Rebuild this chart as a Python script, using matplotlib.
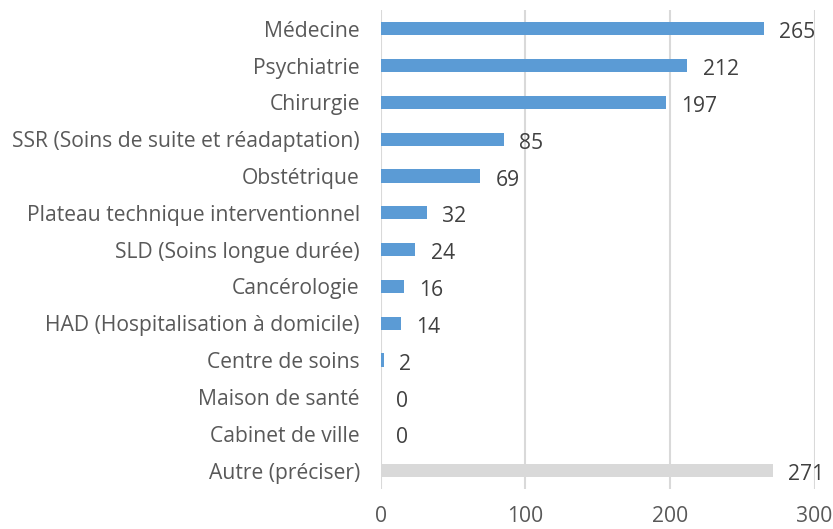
import matplotlib
matplotlib.use("Agg")
import matplotlib.pyplot as plt

categories = ["Médecine", "Psychiatrie", "Chirurgie", "SSR (Soins de suite et réadaptation)",
              "Obstétrique", "Plateau technique interventionnel", "SLD (Soins longue durée)",
              "Cancérologie", "HAD (Hospitalisation à domicile)", "Centre de soins",
              "Maison de santé", "Cabinet de ville", "Autre (préciser)"]
values = [265, 212, 197, 85, 69, 32, 24, 16, 14, 2, 0, 0, 271]
colors = ["#5B9BD5"] * 12 + ["#D9D9D9"]
xticks = [0, 100, 200, 300]

plt.rcParams['font.family'] = ['Open Sans', 'DejaVu Sans']
FS = 15.2

fig = plt.figure(figsize=(8.33, 5.29), dpi=100)
ax = fig.add_axes([0.457, 0.0756, 0.521, 0.905])

y = list(range(len(categories)))
ax.barh(y, values, height=0.36, color=colors, zorder=3)
for yi, v in zip(y, values):
    ax.annotate(str(v), (v, yi), xytext=(11, -3), textcoords="offset points",
                va="center", ha="left", fontsize=FS, color="#404040")

ax.set_ylim(len(categories) - 0.5, -0.5)
ax.set_xlim(0, 300)
ax.set_xticks(xticks)
ax.set_yticks(y)
ax.set_yticklabels(categories, fontsize=FS, color="#595959")
ax.tick_params(axis="x", labelsize=FS, labelcolor="#595959", length=0, pad=12.5)
ax.tick_params(axis="y", length=0, pad=15)
ax.grid(axis="x", color="#D9D9D9", linewidth=1.5, zorder=0)
for s in ax.spines.values():
    s.set_visible(False)

fig.savefig("out.png", dpi=100)
